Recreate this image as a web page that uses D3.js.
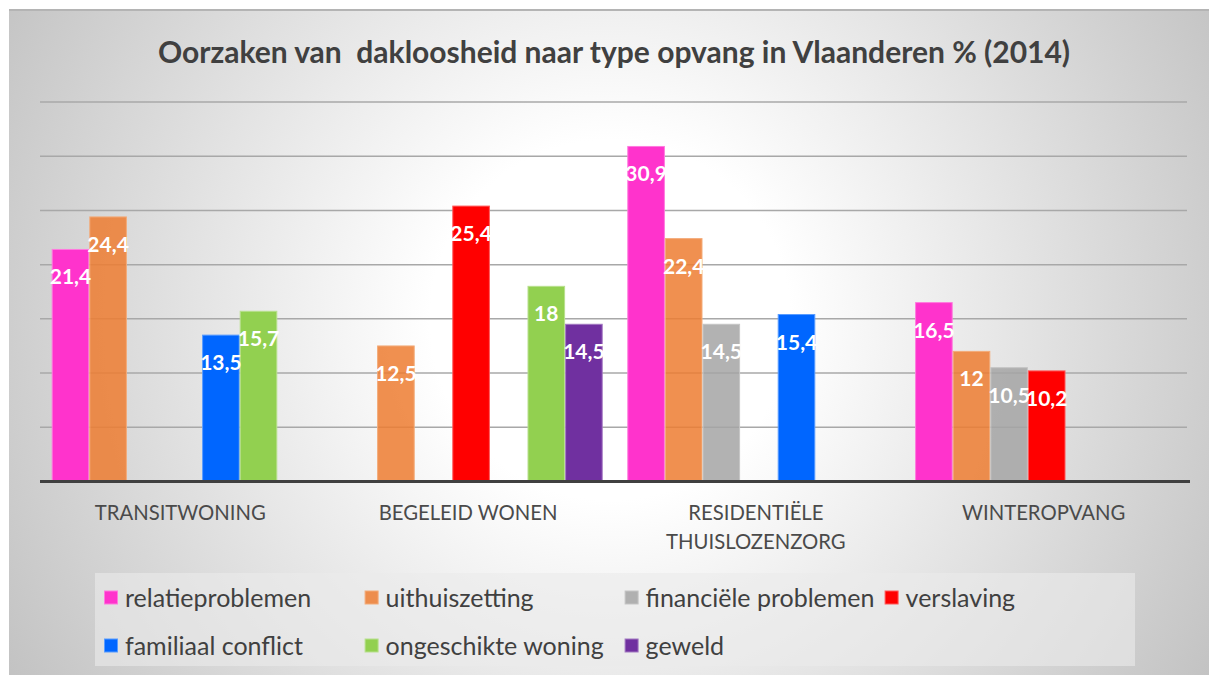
<!DOCTYPE html>
<html>
<head>
<meta charset="utf-8">
<script src="https://cdn.jsdelivr.net/npm/d3@7"></script>
<style>
  html, body { margin: 0; padding: 0; background: #ffffff; }
  svg { display: block; }
  text { font-family: Lato, "Open Sans", sans-serif; }
</style>
</head>
<body>
<svg id="chart" width="1209" height="675"></svg>
<script>
// Oorzaken van dakloosheid per type opvang (Vlaanderen, 2014), in %
const categories = ["TRANSITWONING", "BEGELEID WONEN", "RESIDENTIËLE THUISLOZENZORG", "WINTEROPVANG"];
const seriesNames = ["relatieproblemen", "uithuiszetting", "financiële problemen", "verslaving",
                     "familiaal conflict", "ongeschikte woning", "geweld"];
const relatieproblemen   = [21.4, null, 30.9, 16.5];
const uithuiszetting     = [24.4, 12.5, 22.4, 12];
const financieel         = [null, null, 14.5, 10.5];
const verslaving         = [null, 25.4, null, 10.2];
const familiaalConflict  = [13.5, null, 15.4, null];
const ongeschikteWoning  = [15.7, 18, null, null];
const geweld             = [null, 14.5, null, null];
const seriesValues = [relatieproblemen, uithuiszetting, financieel, verslaving,
                      familiaalConflict, ongeschikteWoning, geweld];
const gridTicks = [5, 10, 15, 20, 25, 30, 35];

const colors = ["#ff33cc", "#ed7d31", "#a5a5a5", "#ff0000", "#0066ff", "#92d050", "#7030a0"];
const opacities = [1, 0.85, 0.85, 1, 1, 1, 1];

const svg = d3.select("#chart");
const W = 1209, H = 675;

// background panel with radial shading
const defs = svg.append("defs");
const rg = defs.append("radialGradient")
  .attr("id", "bg").attr("gradientUnits", "userSpaceOnUse")
  .attr("cx", 610).attr("cy", 320).attr("r", 720);
rg.append("stop").attr("offset", 0).attr("stop-color", "#ffffff");
rg.append("stop").attr("offset", 0.25).attr("stop-color", "#ffffff");
rg.append("stop").attr("offset", 1).attr("stop-color", "#c0c0c0");

svg.append("rect").attr("x", 9).attr("y", 9).attr("width", W - 9).attr("height", H - 9)
  .attr("fill", "url(#bg)");
svg.append("line").attr("x1", 9).attr("x2", W).attr("y1", 10).attr("y2", 10)
  .attr("stroke", "#b4b4b4").attr("stroke-width", 2);

// title
svg.append("text")
  .attr("x", 614).attr("y", 63)
  .attr("text-anchor", "middle")
  .style("white-space", "pre")
  .attr("font-weight", "bold").attr("font-size", 30)
  .attr("fill", "#404040")
  .text("Oorzaken van  dakloosheid naar type opvang in Vlaanderen % (2014)");

// scales
const x0 = d3.scaleBand().domain(categories).range([39.4, 1190.6]).paddingInner(0).paddingOuter(0);
const x1 = d3.scaleBand().domain(seriesNames).range([0, x0.bandwidth()]).paddingInner(0).paddingOuter(0.327);
const y = d3.scaleLinear().domain([0, 35]).range([481.5, 102]);

// gridlines
svg.append("g").selectAll("line").data(gridTicks).join("line")
  .attr("x1", 40).attr("x2", 1187)
  .attr("y1", d => y(d)).attr("y2", d => y(d))
  .attr("stroke", "#a8a8a8").attr("stroke-width", 1.5);

// bars
const barData = [];
seriesNames.forEach((s, si) => {
  categories.forEach((c, ci) => {
    const v = seriesValues[si][ci];
    if (v !== null) barData.push({ s, si, c, v });
  });
});

const bars = svg.append("g");
bars.selectAll("rect").data(barData).join("rect")
  .attr("x", d => x0(d.c) + x1(d.s) + 0.5)
  .attr("width", x1.bandwidth() - 1)
  .attr("y", d => y(d.v))
  .attr("height", d => y(0) - y(d.v))
  .attr("fill", d => colors[d.si])
  .attr("fill-opacity", d => opacities[d.si])
  .attr("stroke", d => d3.interpolateRgb(colors[d.si], "#ffffff")(0.35))
  .attr("stroke-width", 1);

// baseline
svg.append("line").attr("x1", 40).attr("x2", 1190)
  .attr("y1", y(0)).attr("y2", y(0))
  .attr("stroke", "#404040").attr("stroke-width", 3);

// value labels inside the bar ends
const fmt = v => String(v).replace(".", ",");
svg.append("g").selectAll("text").data(barData).join("text")
  .attr("x", d => x0(d.c) + x1(d.s) + x1.bandwidth() / 2)
  .attr("y", d => y(d.v) + 35)
  .attr("text-anchor", "middle")
  .attr("font-weight", "bold").attr("font-size", 21)
  .attr("fill", "#ffffff")
  .text(d => fmt(d.v));

// category labels (wrapped)
const catLines = { "RESIDENTIËLE THUISLOZENZORG": ["RESIDENTIËLE", "THUISLOZENZORG"] };
const catG = svg.append("g");
categories.forEach(c => {
  const lines = catLines[c] || [c];
  const cx = x0(c) + x0.bandwidth() / 2 - 3;
  const t = catG.append("text")
    .attr("x", cx)
    .attr("y", 520)
    .attr("text-anchor", "middle")
    .attr("font-size", 20.3)
    .attr("fill", "#4a4a4a");
  lines.forEach((ln, i) => {
    t.append("tspan").attr("x", cx).attr("dy", i === 0 ? 0 : 29).text(ln);
  });
});

// legend
svg.append("rect").attr("x", 95).attr("y", 573).attr("width", 1040).attr("height", 93)
  .attr("fill", "#ebebeb").attr("fill-opacity", 0.6);

const legendPos = [
  { x: 104, y: 598 }, { x: 364.6, y: 598 }, { x: 624.6, y: 598 }, { x: 884.6, y: 598 },
  { x: 104, y: 646 }, { x: 364.6, y: 646 }, { x: 624.6, y: 646 }
];
const lg = svg.append("g").selectAll("g").data(seriesNames).join("g")
  .attr("transform", (d, i) => `translate(${legendPos[i].x},${legendPos[i].y})`);
lg.append("rect").attr("x", 0.5).attr("y", -7).attr("width", 13).attr("height", 13)
  .attr("fill", (d, i) => colors[i])
  .attr("fill-opacity", (d, i) => opacities[i])
  .attr("stroke", (d, i) => d3.interpolateRgb(colors[i], "#ffffff")(0.35));
lg.append("text").attr("x", 21).attr("y", 8.5)
  .attr("font-size", 25).attr("fill", "#404040")
  .text(d => d);
</script>
</body>
</html>
